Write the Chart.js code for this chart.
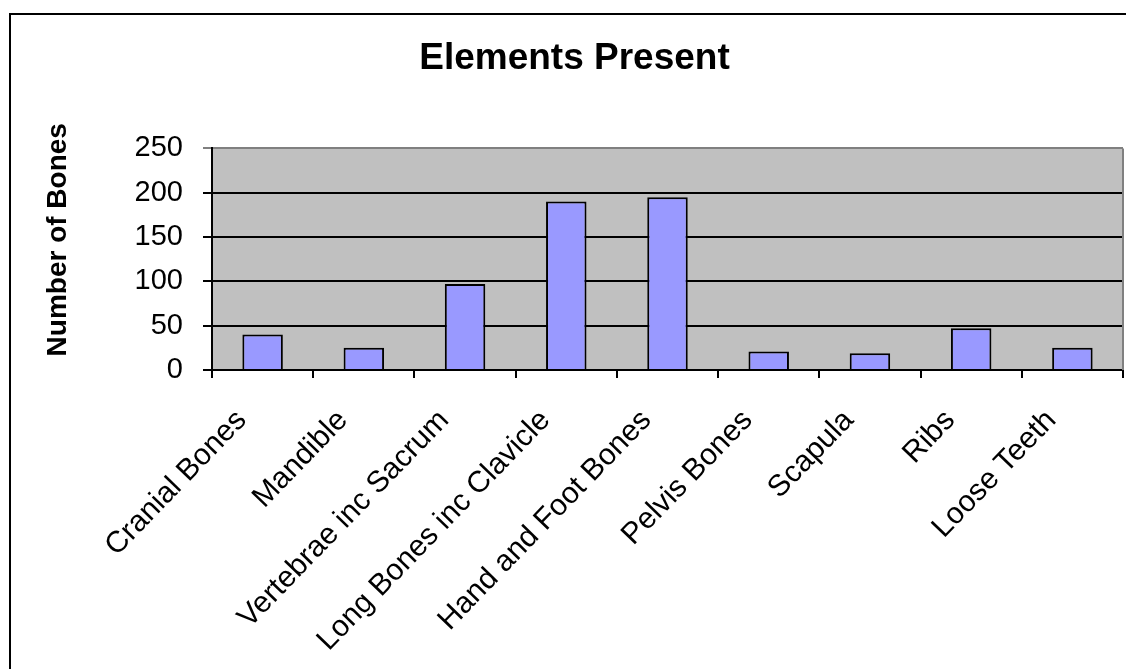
<!DOCTYPE html>
<html>
<head>
<meta charset="utf-8">
<title>Elements Present</title>
<script src="https://cdn.jsdelivr.net/npm/chart.js@4/dist/chart.umd.min.js"></script>
<style>
  html, body { margin: 0; padding: 0; background: #ffffff; }
  #wrap { width: 1126px; height: 669px; }
</style>
</head>
<body>
<div id="wrap"><canvas id="chart" width="1126" height="669"></canvas></div>
<script>
// Skeletal element counts by category
const categories = [
  'Cranial Bones', 'Mandible', 'Vertebrae inc Sacrum', 'Long Bones inc Clavicle',
  'Hand and Foot Bones', 'Pelvis Bones', 'Scapula', 'Ribs', 'Loose Teeth'
];
const boneCounts = [40, 25, 97, 190, 195, 21, 19, 47, 25];
const yTicks = [0, 50, 100, 150, 200, 250];

const FONT = "'Liberation Sans', Arial, 'DejaVu Sans', sans-serif";

// Grey plot background, grey right edge and the black outer frame
const framePlugin = {
  id: 'frame',
  beforeDraw(chart) {
    const { ctx, chartArea: a } = chart;
    ctx.save();
    ctx.fillStyle = '#ffffff';
    ctx.fillRect(0, 0, chart.width, chart.height);
    ctx.strokeStyle = '#000000';
    ctx.lineWidth = 2;
    ctx.strokeRect(10, 14, chart.width + 20, chart.height + 20);
    ctx.fillStyle = '#c0c0c0';
    ctx.fillRect(a.left, a.top, a.right - a.left, a.bottom - a.top);
    ctx.restore();
  },
  afterDatasetsDraw(chart) {
    const { ctx, chartArea: a } = chart;
    ctx.save();
    ctx.strokeStyle = '#808080';
    ctx.lineWidth = 2;
    ctx.beginPath();
    ctx.moveTo(a.right, a.top);
    ctx.lineTo(a.right, a.bottom);
    ctx.stroke();
    ctx.restore();
  }
};

new Chart(document.getElementById('chart'), {
  type: 'bar',
  data: {
    labels: categories,
    datasets: [{
      label: 'Number of Bones',
      data: boneCounts,
      backgroundColor: '#9999ff',
      borderColor: '#000000',
      borderWidth: 2,
      categoryPercentage: 1.0,
      barPercentage: 0.4
    }]
  },
  options: {
    responsive: false,
    animation: false,
    devicePixelRatio: 1,
    layout: { padding: { top: 14, left: 26, right: 3, bottom: 0 } },
    plugins: {
      legend: { display: false },
      tooltip: { enabled: false },
      title: {
        display: true,
        text: 'Elements Present',
        color: '#000000',
        font: { family: FONT, size: 37, weight: 'bold', lineHeight: 1.2 },
        padding: { top: 23, bottom: 67 }
      }
    },
    scales: {
      x: {
        grid: {
          display: true,
          drawOnChartArea: false,
          drawTicks: true,
          tickLength: 8,
          color: '#000000',
          lineWidth: 2,
          offset: true
        },
        border: { display: true, color: '#000000', width: 2 },
        ticks: {
          color: '#000000',
          font: { family: FONT, size: 30 },
          minRotation: 46,
          maxRotation: 46,
          autoSkip: false,
          padding: 25,
          labelOffset: -21
        },
        afterFit(scale) { scale.height = 299; }
      },
      y: {
        min: 0,
        max: 250,
        afterBuildTicks(scale) { scale.ticks = yTicks.map(v => ({ value: v })); },
        grid: {
          display: true,
          drawOnChartArea: true,
          drawTicks: true,
          tickLength: 9,
          color: (c) => (c.tick && c.tick.value === 250 ? '#808080' : '#000000'),
          lineWidth: 2
        },
        border: { display: true, color: '#000000', width: 2 },
        ticks: {
          color: '#000000',
          font: { family: FONT, size: 29 },
          padding: 20
        },
        title: {
          display: true,
          text: '     Number of Bones',
          color: '#000000',
          font: { family: FONT, size: 28, weight: 'bold', lineHeight: 1.2 },
          padding: { top: 15, bottom: 0 }
        },
        afterFit(scale) { scale.width = 186; }
      }
    }
  },
  plugins: [framePlugin]
});
</script>
</body>
</html>
